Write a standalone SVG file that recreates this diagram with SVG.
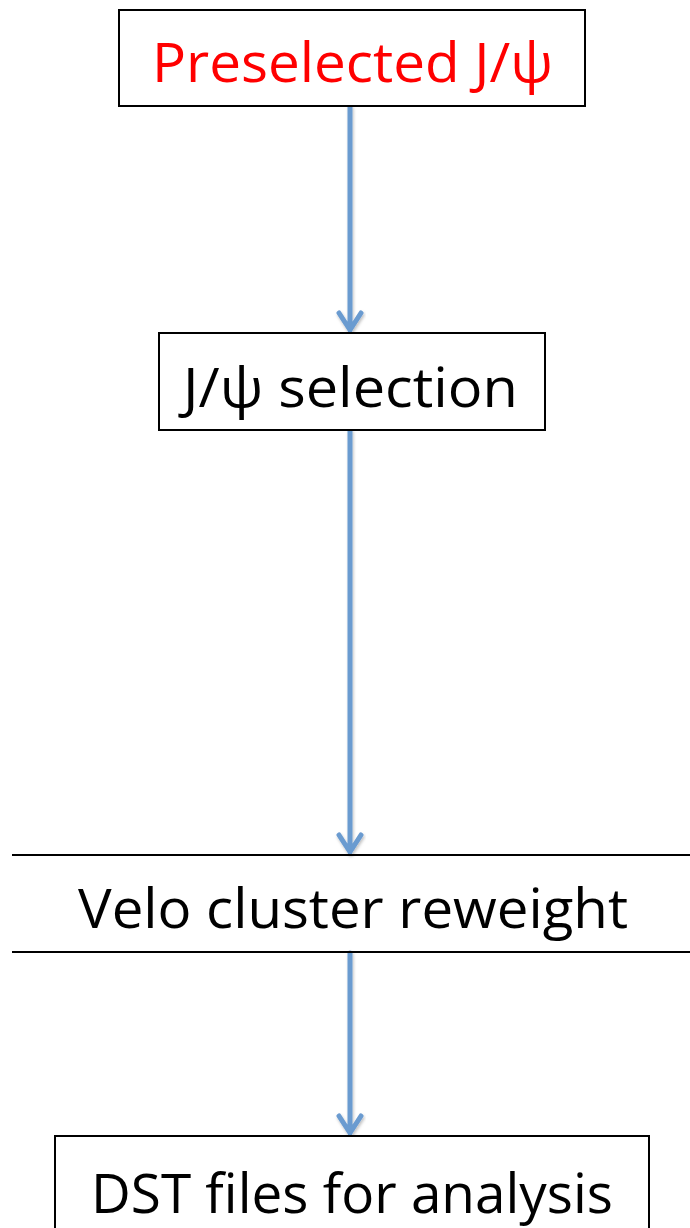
<svg xmlns="http://www.w3.org/2000/svg" width="690" height="1228" viewBox="0 0 690 1228">
  <style>
    .box { fill: #ffffff; stroke: #000000; stroke-width: 2; }
    .rule { stroke: #000000; stroke-width: 2; }
    .label { font-family: "Open Sans", "Liberation Sans", sans-serif; font-size: 54px; fill: #000000; }
    .red { fill: #ff0000; }
    .flow { stroke: #6b9bd0; stroke-width: 5; fill: none; stroke-linecap: round; stroke-linejoin: round; }
  </style>
  <defs>
    <filter id="soft" x="-20%" y="-5%" width="140%" height="110%">
      <feDropShadow dx="1" dy="2" stdDeviation="1.5" flood-color="#000000" flood-opacity="0.25"/>
    </filter>
  </defs>
  <rect width="690" height="1228" fill="#ffffff"/>

  <g id="connectors" filter="url(#soft)">
    <path class="flow" d="M350 107 V330 M339 313 L350 330 L361 313"/>
    <path class="flow" d="M350 431 V852 M339 835 L350 852 L361 835"/>
    <path class="flow" d="M350 953 V1133 M339 1116 L350 1133 L361 1116"/>
  </g>

  <g id="preselected">
    <rect class="box" x="119" y="10" width="466" height="96"/>
    <text class="label red" x="152" y="82" textLength="401" lengthAdjust="spacingAndGlyphs">Preselected J/ψ</text>
  </g>

  <g id="selection">
    <rect class="box" x="159" y="333" width="386" height="97"/>
    <text class="label" x="183" y="407" textLength="335" lengthAdjust="spacingAndGlyphs">J/ψ selection</text>
  </g>

  <g id="reweight">
    <line class="rule" x1="12" y1="855" x2="690" y2="855"/>
    <line class="rule" x1="12" y1="952" x2="690" y2="952"/>
    <text class="label" x="78" y="928" textLength="550" lengthAdjust="spacingAndGlyphs">Velo cluster reweight</text>
  </g>

  <g id="dst">
    <rect class="box" x="55" y="1136" width="594" height="100"/>
    <text class="label" x="91" y="1213" textLength="522" lengthAdjust="spacingAndGlyphs">DST files for analysis</text>
  </g>
</svg>
